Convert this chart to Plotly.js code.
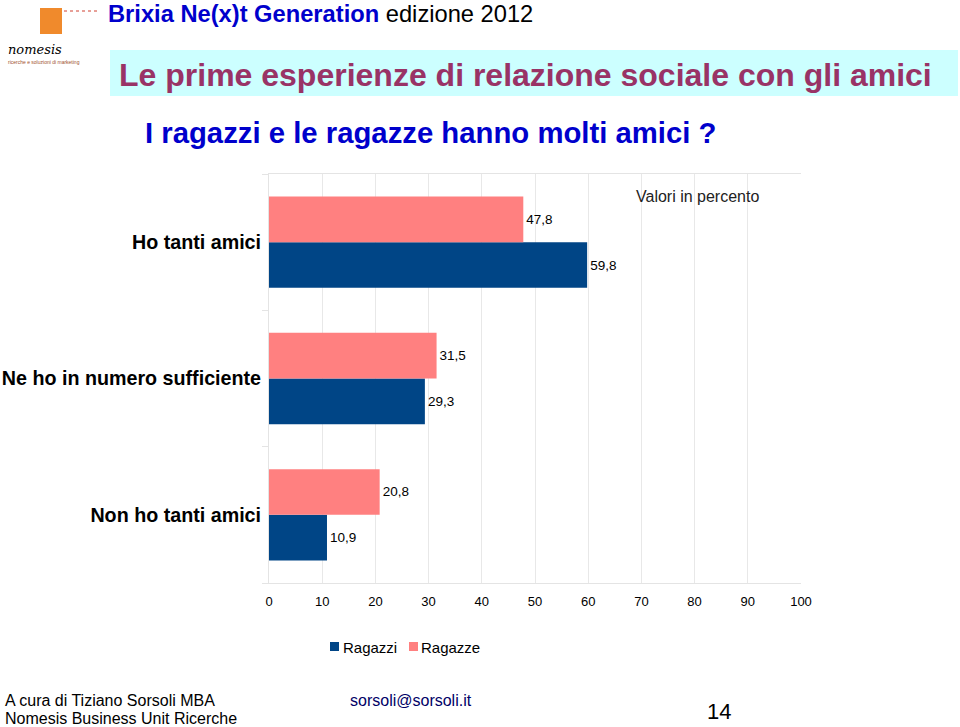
<!DOCTYPE html>
<html>
<head>
<meta charset="utf-8">
<script src="https://cdn.plot.ly/plotly-3.0.1.min.js"></script>
<style>
  html, body { margin: 0; padding: 0; background: #fff; }
  #chart { width: 960px; height: 727px; }
</style>
</head>
<body>
<div id="chart"></div>
<script>
'use strict';

// categories listed bottom -> top
const categories = ['Non ho tanti amici', 'Ne ho in numero sufficiente', 'Ho tanti amici'];
const seriesNames = ['Ragazzi', 'Ragazze'];
const ragazzi = [10.9, 29.3, 59.8];
const ragazze = [20.8, 31.5, 47.8];
const xTicks = [0, 10, 20, 30, 40, 50, 60, 70, 80, 90, 100];

const BLUE = '#004586', PINK = '#ff8080';
const fmt = v => v.toFixed(1).replace('.', ',');

// plot area in page pixels
const L = 269, R = 801, T = 174, B = 583;
const px = x => (x - L) / (R - L);
const py = y => (B - y) / (B - T);

const sans = 'Liberation Sans, Arial, sans-serif';

function note(text, x, y, size, color, opts) {
    return Object.assign({ text, x: px(x), y: py(y), xref: 'paper', yref: 'paper',
        xanchor: 'left', yanchor: 'middle', showarrow: false,
        font: { family: sans, size, color } }, opts || {});
}
function box(x0, y0, x1, y1, color) {
    return { type: 'rect', xref: 'paper', yref: 'paper', x0: px(x0), x1: px(x1), y0: py(y0), y1: py(y1),
             fillcolor: color, line: { width: 0 } };
}

const traces = [
    { type: 'bar', orientation: 'h', name: seriesNames[0], y: categories, x: ragazzi,
      marker: { color: BLUE }, text: ragazzi.map(fmt), textposition: 'outside',
      textfont: { family: sans, size: 13.5, color: '#000' }, cliponaxis: false },
    { type: 'bar', orientation: 'h', name: seriesNames[1], y: categories, x: ragazze,
      marker: { color: PINK }, text: ragazze.map(fmt), textposition: 'outside',
      textfont: { family: sans, size: 13.5, color: '#000' }, cliponaxis: false }
];

const layout = {
    width: 960, height: 727,
    margin: { l: L, r: 960 - R, t: T, b: 727 - B },
    paper_bgcolor: '#fff', plot_bgcolor: '#fff',
    barmode: 'group', bargap: 0.33, bargroupgap: 0,
    font: { family: sans, color: '#000' },
    showlegend: false,
    xaxis: { range: [0, 100], tickvals: xTicks, ticktext: xTicks.map(String),
             showgrid: true, gridcolor: '#e8e8e8', gridwidth: 1, zeroline: false,
             showline: true, mirror: true, linecolor: '#e4e4e4', linewidth: 1,
             ticks: 'outside', ticklen: 6, tickcolor: '#fff',
             tickfont: { family: sans, size: 13, color: '#000' } },
    yaxis: { type: 'category', tickson: 'boundaries', ticks: 'outside', ticklen: 6,
             tickcolor: '#e4e4e4', showgrid: false, zeroline: false,
             showline: true, linecolor: '#e4e4e4', linewidth: 1, ticklabelstandoff: 3,
             tickfont: { family: sans, size: 19.7, color: '#000', weight: 'bold' } },
    shapes: [
        Object.assign(box(110, 50, 958, 96, '#ccffff'), { layer: 'below' }),
        // logo block
        box(40, 8, 62, 34, '#f08a2c'),
        { type: 'line', xref: 'paper', yref: 'paper', x0: px(64), x1: px(98), y0: py(11), y1: py(11),
          line: { color: '#d04030', width: 1, dash: 'dot' } },
        // legend keys
        box(330, 642, 339, 651, BLUE),
        box(409, 642, 418, 651, PINK)
    ],
    annotations: [
        note('<b>Brixia Ne(x)t Generation</b> <span style="color:#000">edizione 2012</span>', 106, 14, 23.7, '#0000cc'),
        note('<i>nomesis</i>', 6, 49, 13, '#000', { font: { family: 'DejaVu Serif, serif', size: 13, color: '#000' } }),
        note('ricerche e soluzioni di marketing', 6, 62, 5, '#a0522d'),
        note('<b>Le prime esperienze di relazione sociale con gli amici</b>', 117, 75, 32, '#993366'),
        note('<b>I ragazzi e le ragazze hanno molti amici ?</b>', 143, 132, 29.3, '#0000cc'),
        note('Valori in percento', 634, 196, 16, '#222'),
        note(seriesNames[0], 341, 647, 15, '#000'),
        note(seriesNames[1], 419, 647, 15, '#000'),
        note('A cura di Tiziano Sorsoli MBA', 3, 700, 16, '#000'),
        note('Nomesis Business Unit Ricerche', 3, 718, 16, '#000'),
        note('sorsoli@sorsoli.it', 348, 700, 16, '#000066'),
        note('14', 705, 711, 22, '#000')
    ]
};

Plotly.newPlot('chart', traces, layout, { displayModeBar: false, staticPlot: true });
</script>
</body>
</html>
